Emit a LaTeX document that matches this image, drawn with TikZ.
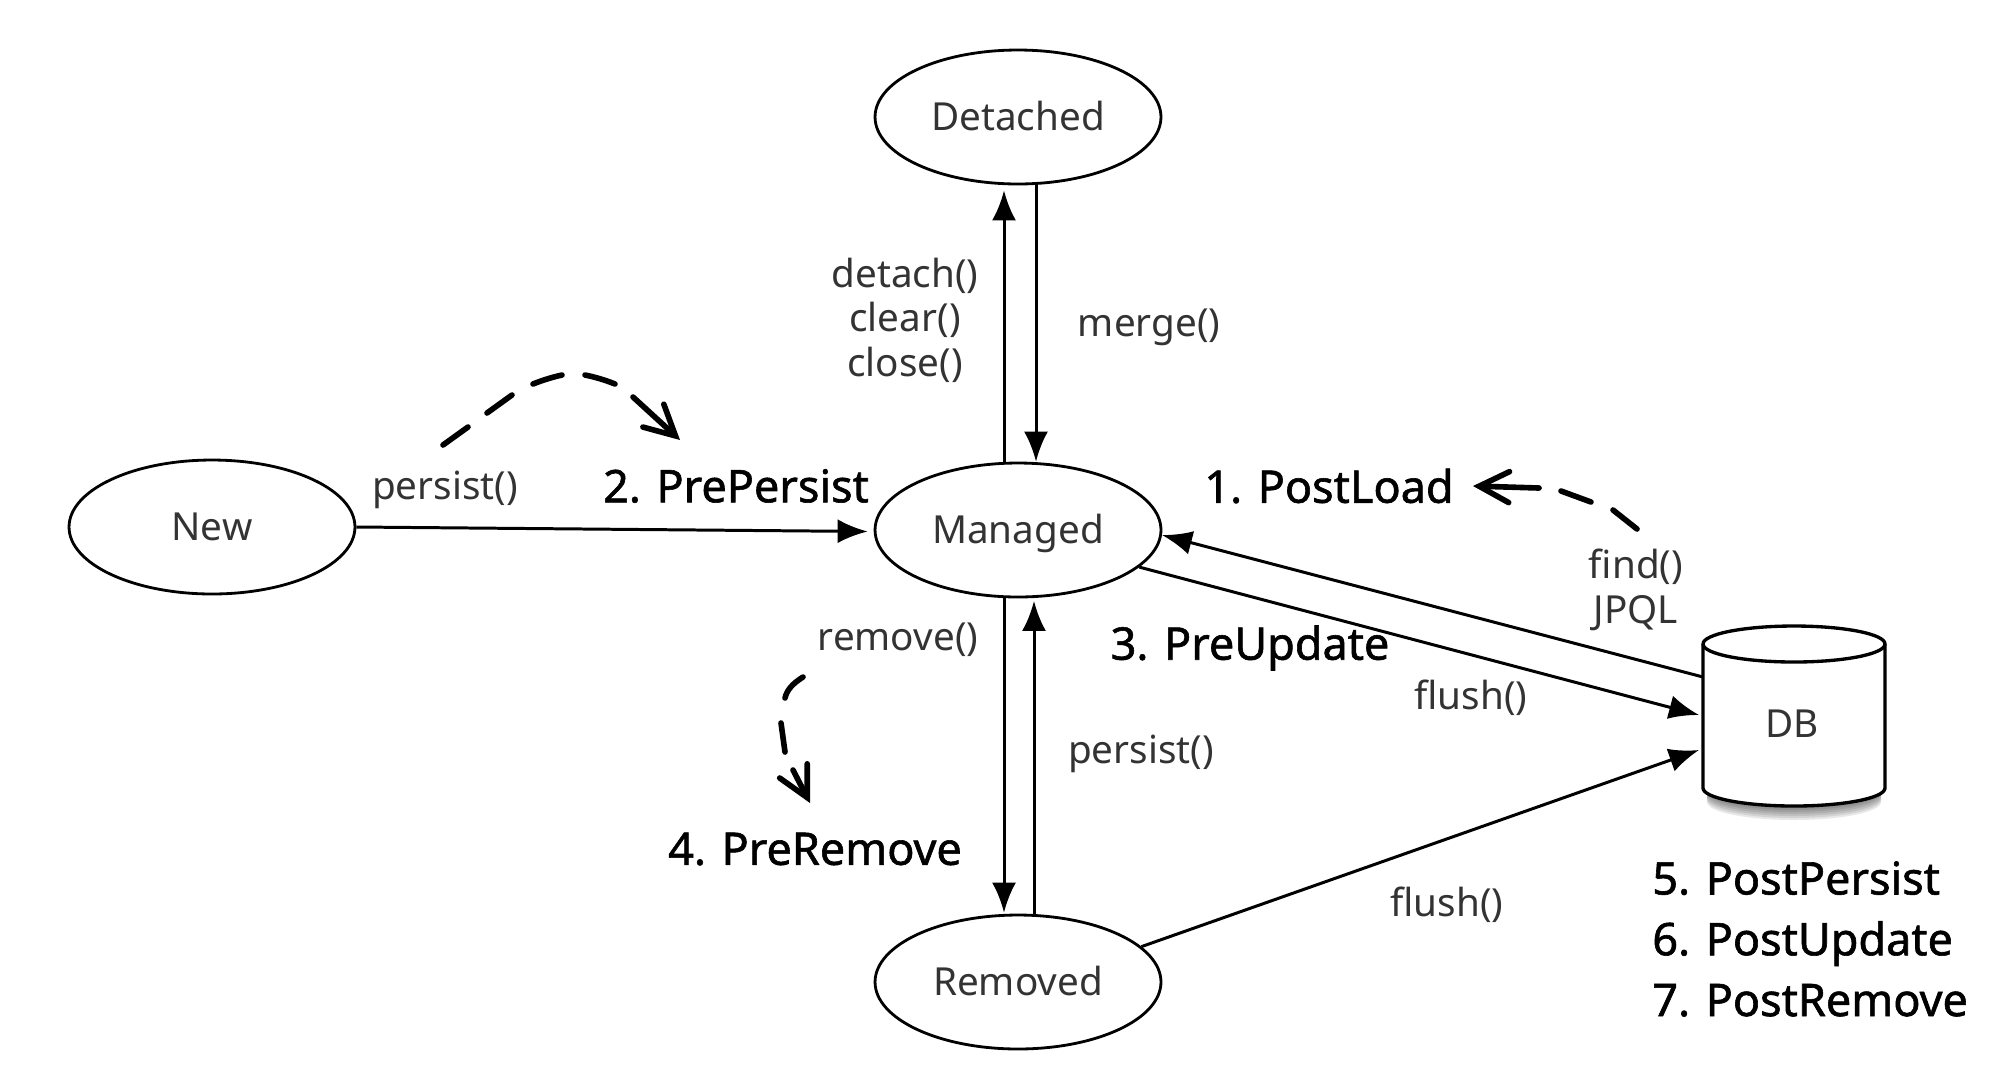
\documentclass[tikz,border=0pt]{standalone}
\usepackage{fontspec}
\setmainfont{Noto Sans}
\newfontfamily\cbfont[FakeBold=1.3]{Noto Sans}
\usetikzlibrary{arrows.meta,shapes.geometric}
\tikzset{
  px/.style={x=0.02cm,y=-0.02cm},
  stateN/.style={draw,ellipse,line width=1.6pt,minimum width=5.72cm,minimum height=2.68cm,inner sep=0pt,text height=0.55cm,text depth=0pt,font=\fontsize{22}{22}\selectfont,text=black!80},
  lab/.style={inner sep=0pt,align=center,font=\fontsize{22}{25.4}\selectfont,text=black!80},
  cb/.style={inner sep=0pt,align=center,font=\cbfont\fontsize{25.6}{34.6}\selectfont},
  conn/.style={draw,line width=1.7pt,-{Latex[length=0.6cm,width=0.48cm]}},
  cbk/.style={draw,line width=3.2pt,line cap=round,-{Straight Barb[length=0.6cm,width=0.62cm,line cap=round]}}
}
\begin{document}
\begin{tikzpicture}[px]
\useasboundingbox (0,0) rectangle (2000,1066);
\node[stateN] (det) at (1018,117) {Detached};
\node[stateN] (man) at (1018,530) {Managed};
\node[stateN] (new) at (212,527) {New};
\node[stateN] (rem) at (1018,982) {Removed};
% DB shadow
\foreach \s in {2,4,...,14}{
  \fill[black,opacity=0.09] (1707,700) -- (1707,788+\s) arc[start angle=180,end angle=0,x radius=87,y radius=18] -- (1881,700) -- cycle;
}
% DB body
\draw[line width=1.9pt,fill=white] (1703,644) -- (1703,788) arc[start angle=180,end angle=0,x radius=91,y radius=18] -- (1885,644) arc[start angle=0,end angle=-180,x radius=91,y radius=18] -- cycle;
\draw[line width=1.9pt] (1703,644) arc[start angle=180,end angle=0,x radius=91,y radius=18];
\node[lab] (db) at (1792,724) {DB};
\coordinate (dbA) at (1703,677);
\coordinate (dbB) at (1699,715);
\coordinate (dbC) at (1699,750);
% connectors
\draw[conn,shorten >=0.02cm] (new.east) -- ([yshift=-.03cm,xshift=-.1cm]man.west);
\draw[conn,shorten >=0.1cm] ([xshift=-.28cm]man.north) -- ([xshift=-.28cm]det.south);
\draw[conn] ([xshift=.36cm]det.south) -- ([xshift=.36cm]man.north);
\draw[conn,shorten >=0.02cm] ([xshift=-.28cm]man.south) -- ([xshift=-.28cm]rem.north);
\draw[conn,shorten >=0.05cm] ([xshift=.32cm]rem.north) -- ([xshift=.32cm]man.south);
\draw[conn] (dbA) -- (man.-2);
\draw[conn] (man.-17) -- (dbB);
\draw[conn] (rem.16) -- (dbC);
% labels
\node[lab] (l1) at (905,320) {detach()\\clear()\\close()};
\node[lab] (l2) at (1149,327) {merge()};
\node[lab] (l3) at (445,490) {persist()};
\node[lab] (l4) at (898,640) {remove()};
\node[lab] (l5) at (1141,754) {persist()};
\node[lab] (l6) at (1636,590) {find()\\JPQL};
\node[lab] (l7) at (1471,698) {flush()};
\node[lab] (l8) at (1447,905) {flush()};
\node[cb] (c1) at (1329,486) {1. PostLoad};
\node[cb] (c2) at (736,486) {2. PrePersist};
\node[cb] (c3) at (1250,648) {3. PreUpdate};
\node[cb] (c4) at (815,849) {4. PreRemove};
\node[cb,anchor=west,align=left] (c5) at (1652,939) {5. PostPersist\\6. PostUpdate\\7. PostRemove};
% callbacks
\draw[cbk] (443,445) -- (468,427) (487,413) -- (512,395) (533,384) .. controls (543,380) and (553,377) .. (562,375) (585,375) .. controls (595,377) and (605,380) .. (615,384) (633,397) -- (680,440);
\draw[cbk] (1637,529) -- (1613,510) (1591,502) -- (1561,491) (1539,488) -- (1473,486);
\draw[cbk] (803,677) .. controls (792,684) and (787,690) .. (785,698) (781,723) -- (785,752) (793,770) -- (810,803);
\end{tikzpicture}
\end{document}
